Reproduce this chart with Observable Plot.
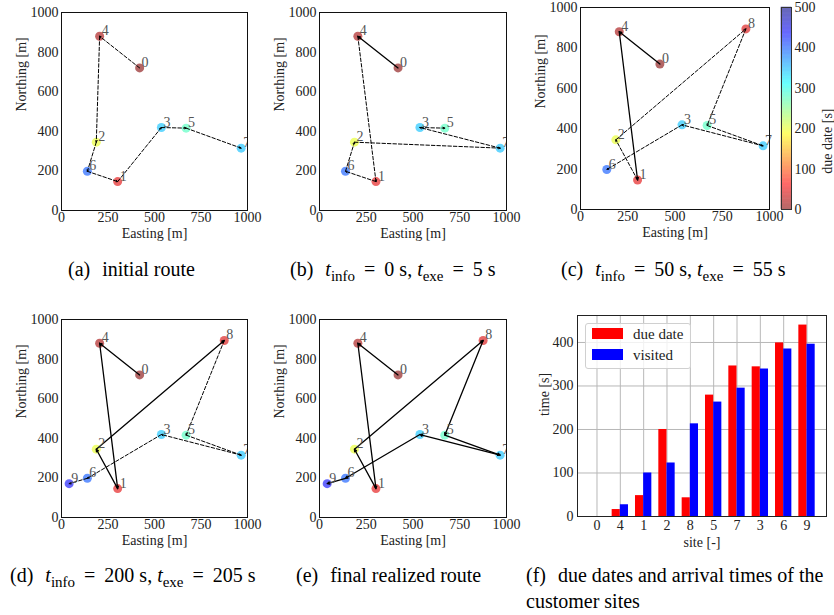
<!DOCTYPE html>
<html><head><meta charset="utf-8">
<script src="https://cdn.jsdelivr.net/npm/d3@7"></script>
<script src="https://cdn.jsdelivr.net/npm/@observablehq/plot@0.6"></script>
<style>
html,body{margin:0;padding:0;background:#fff;}
#fig{position:relative;width:834px;height:615px;overflow:hidden;font-family:"Liberation Serif",serif;background:#fff;}
.panel{position:absolute;}
.panel svg{overflow:visible;display:block;max-width:none;}
.cap{position:absolute;font-size:20px;line-height:20px;white-space:nowrap;color:#000;font-family:"Liberation Serif",serif;}
.cap .lab{margin-right:0.6em;}
.cap .eq{margin:0 0.45em;}
.cap sub{font-size:0.75em;vertical-align:-0.3em;line-height:0;}
.legend{position:absolute;left:585px;top:323px;width:106px;height:46px;border:1px solid #d0d0d0;border-radius:3px;background:rgba(255,255,255,0.8);box-sizing:border-box;font-family:"Liberation Serif",serif;font-size:15px;color:#222;}
.legend .sw{position:absolute;left:6px;width:31px;height:11px;}
.legend .tx{position:absolute;left:47px;line-height:15px;}
</style></head><body><div id="fig"></div>
<script>
// ---- data ----
const siteIds = [0, 1, 2, 3, 4, 5, 6, 7, 8, 9];
const siteEasting = [420, 302, 187, 537, 205, 670, 139, 966, 875, 41];
const siteNorthing = [720, 146, 345, 419, 880, 416, 198, 315, 894, 171];
const visitOrder = [0, 4, 1, 2, 8, 5, 7, 3, 6, 9];
const dueDates = [0, 16, 48, 200, 43, 279, 346, 344, 399, 440];      // in visit order
const visitTimes = [0, 27, 100, 123, 213, 263, 295, 339, 385, 396];  // in visit order
const routeA = [0, 4, 2, 6, 1, 3, 5, 7];
const routeB = [0, 4, 1, 6, 2, 7, 3, 5];
const routeC = [0, 4, 1, 2, 8, 5, 7, 3, 6];
const routeD = [0, 4, 1, 2, 8, 5, 7, 3, 6, 9];
const routeE = [0, 4, 1, 2, 8, 5, 7, 3, 6, 9];
const executedLegs = [0, 1, 2, 4, 9];
const xTicks = [0, 250, 500, 750, 1000];
const yTicks = [0, 200, 400, 600, 800, 1000];
const colorTicks = [0, 100, 200, 300, 400, 500];
const timeTicks = [0, 100, 200, 300, 400];
const seriesNames = ["due date", "visited"];
const seriesColors = ["#ff0000", "#0000ff"];

const dueBySite = [];
visitOrder.forEach((s, i) => { dueBySite[s] = dueDates[i]; });

// jet_r colormap, blended with white (alpha 0.6)
function jetR(t) {
  const s = 1 - t;
  const c = v => Math.max(0, Math.min(1, v));
  const r = c(1.5 - Math.abs(4 * s - 3)), g = c(1.5 - Math.abs(4 * s - 2)), b = c(1.5 - Math.abs(4 * s - 1));
  const a = 0.6, m = v => Math.round(255 * (a * v + 1 - a));
  return `rgb(${m(r)},${m(g)},${m(b)})`;
}
const colorScale = {type: "linear", domain: [0, 500], interpolate: jetR};
const baseStyle = {fontFamily: '"Liberation Serif", serif', fontSize: "14px", color: "#222", background: "transparent", overflow: "visible"};
const plain = d => String(d);

const fig = document.getElementById("fig");
function place(node, left, top) {
  const div = document.createElement("div");
  div.className = "panel";
  div.style.left = left + "px"; div.style.top = top + "px";
  div.appendChild(node); fig.appendChild(div); return div;
}

function routePanel(route, executed, nSites, frame, clipLabels) {
  const sites = siteIds.slice(0, nSites).map(i => ({id: i, e: siteEasting[i], n: siteNorthing[i], due: dueBySite[i]}));
  const legs = d3.pairs(route).map(([a, b], k) => ({e1: siteEasting[a], n1: siteNorthing[a], e2: siteEasting[b], n2: siteNorthing[b], done: k < executed}));
  const M = {l: 61, t: 10, r: 22, b: 40};
  const p = Plot.plot({
    width: frame.w + M.l + M.r, height: frame.h + M.t + M.b,
    marginLeft: M.l, marginTop: M.t, marginRight: M.r, marginBottom: M.b,
    x: {domain: [0, 1000], ticks: xTicks, tickFormat: plain, tickSize: 0, tickPadding: 2, label: null},
    y: {domain: [0, 1000], ticks: yTicks, tickFormat: plain, tickSize: 0, tickPadding: 3, label: null},
    color: colorScale,
    style: baseStyle,
    marks: [
      Plot.dot(sites, {x: "e", y: "n", r: 4.5, fill: "due"}),
      Plot.arrow(legs.filter(d => !d.done), {x1: "e1", y1: "n1", x2: "e2", y2: "n2", stroke: "black", strokeWidth: 1, strokeDasharray: "3.5,2", headLength: 3, headAngle: 50}),
      Plot.arrow(legs.filter(d => d.done), {x1: "e1", y1: "n1", x2: "e2", y2: "n2", stroke: "black", strokeWidth: 1.3, headLength: 3, headAngle: 50}),
      Plot.text(sites, {x: "e", y: "n", text: d => String(d.id), dx: 2, dy: -1, textAnchor: "start", lineAnchor: "bottom", fill: "#555", fontSize: 14, clip: clipLabels}),
      Plot.frame({stroke: "#111"}),
      Plot.text(["Easting [m]"], {frameAnchor: "bottom", text: d => d, dy: 23, lineAnchor: "middle", fill: "#222"}),
      Plot.text(["Northing [m]"], {frameAnchor: "left", text: d => d, dx: -39.5, rotate: -90, lineAnchor: "middle", fill: "#222"})
    ]
  });
  place(p, frame.x - M.l, frame.y - M.t);
}

routePanel(routeA, executedLegs[0], 8, {x: 61, y: 12, w: 186, h: 198}, true);
routePanel(routeB, executedLegs[1], 8, {x: 319, y: 12, w: 187, h: 198}, true);
routePanel(routeC, executedLegs[2], 9, {x: 580, y: 7, w: 189, h: 202}, false);
routePanel(routeD, executedLegs[3], 10, {x: 61, y: 319, w: 186, h: 198}, true);
routePanel(routeE, executedLegs[4], 10, {x: 319, y: 319, w: 187, h: 198}, true);

// colorbar
{
  const step = 2;
  const steps = d3.range(0, 500, step);
  const cb = Plot.plot({
    width: 63, height: 252, marginLeft: 10, marginRight: 43, marginTop: 10, marginBottom: 40,
    x: {domain: [0, 1], axis: null},
    y: {domain: [0, 500], ticks: colorTicks, tickFormat: plain, axis: "right", tickSize: 0, tickPadding: 3, label: null},
    color: colorScale,
    style: baseStyle,
    marks: [
      Plot.rect(steps, {x1: 0, x2: 1, y1: d => d, y2: d => d + step, fill: d => d + step / 2, stroke: d => d + step / 2, strokeWidth: 0.6}),
      Plot.frame({stroke: "#333"}),
      Plot.text(["due date [s]"], {frameAnchor: "right", text: d => d, dx: 36, rotate: -90, lineAnchor: "middle", fill: "#222"})
    ]
  });
  place(cb, 771, -3);
}

// bar chart (f)
{
  const bars = visitOrder.map((s, i) => ({i, site: s, due: dueDates[i], visit: visitTimes[i]}));
  const bp = Plot.plot({
    width: 294, height: 265, marginLeft: 37, marginRight: 8, marginTop: 15, marginBottom: 49,
    x: {domain: [-0.835, 9.835], ticks: bars.map(d => d.i), tickFormat: i => String(visitOrder[i]), tickSize: 0, tickPadding: 4, label: null},
    y: {domain: [0, 462], ticks: timeTicks, tickFormat: plain, tickSize: 0, tickPadding: 4, label: null},
    style: baseStyle,
    marks: [
      Plot.ruleX(bars, {x: "i", stroke: "#b8b8b8", strokeWidth: 1}),
      Plot.ruleY(timeTicks, {stroke: "#b8b8b8", strokeWidth: 1}),
      Plot.rect(bars, {x1: d => d.i - 0.35, x2: "i", y1: 0, y2: "due", fill: seriesColors[0]}),
      Plot.rect(bars, {x1: "i", x2: d => d.i + 0.35, y1: 0, y2: "visit", fill: seriesColors[1]}),
      Plot.frame({stroke: "#222"}),
      Plot.text(["site [-]"], {frameAnchor: "bottom", text: d => d, dy: 26, lineAnchor: "middle", fill: "#222"}),
      Plot.text(["time [s]"], {frameAnchor: "left", text: d => d, dx: -33, rotate: -90, lineAnchor: "middle", fill: "#222"})
    ]
  });
  place(bp, 540, 300);
  const lg = document.createElement("div");
  lg.className = "legend";
  lg.innerHTML = seriesNames.map((n, k) =>
    `<div class="sw" style="top:${4 + k * 21}px;background:${seriesColors[k]}"></div><div class="tx" style="top:${3 + k * 21}px">${n}</div>`).join("");
  fig.appendChild(lg);
}

// captions
const T = (sub) => `<i>t</i><sub>${sub}</sub>`;
const EQ = `<span class="eq">=</span>`;
const captions = [
  {left: 68, base: 276, lab: "(a)", html: "initial route"},
  {left: 290, base: 276, lab: "(b)", html: `${T("info")}${EQ}0 s, ${T("exe")}${EQ}5 s`},
  {left: 561, base: 276, lab: "(c)", html: `${T("info")}${EQ}50 s, ${T("exe")}${EQ}55 s`},
  {left: 10, base: 582, lab: "(d)", html: `${T("info")}${EQ}200 s, ${T("exe")}${EQ}205 s`},
  {left: 296, base: 582, lab: "(e)", html: "final realized route"},
  {left: 526, base: 582, lab: "(f)", html: "due dates and arrival times of the<br>customer sites", lh: 26}
];
captions.forEach(c => {
  const d = document.createElement("div");
  d.className = "cap";
  const lh = c.lh || 20;
  d.style.lineHeight = lh + "px";
  const baseOff = (lh - 22.14) / 2 + 17.82;
  d.style.left = c.left + "px";
  d.style.top = (c.base - baseOff) + "px";
  d.innerHTML = `<span class="lab">${c.lab}</span>${c.html}`;
  fig.appendChild(d);
});
</script></body></html>
